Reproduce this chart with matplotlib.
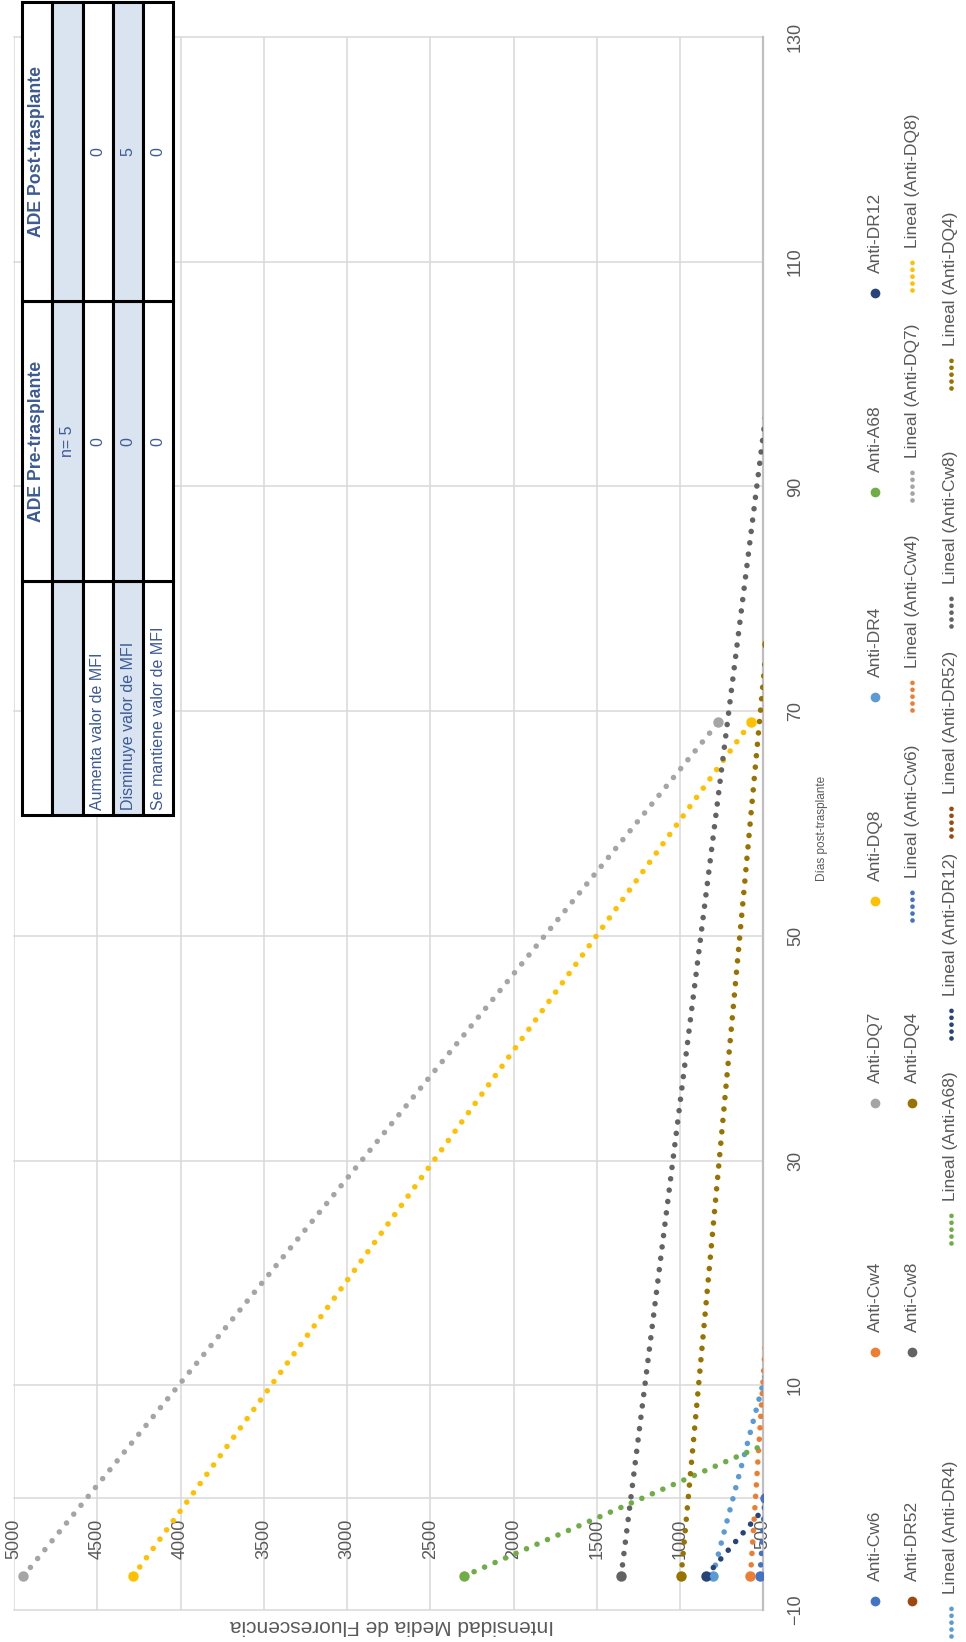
import numpy as np
import matplotlib
matplotlib.use("Agg")
import matplotlib.pyplot as plt
from matplotlib.patches import Rectangle

W, H, DPI = 966, 1642, 100

# anticuerpos donante-específicos, MFI pre (día -7) y post-trasplante
antigenos = ["Anti-Cw6", "Anti-Cw4", "Anti-DQ7", "Anti-DQ8", "Anti-DR4",
             "Anti-A68", "Anti-DR12", "Anti-DR52", "Anti-Cw8", "Anti-DQ4"]
colores = ["#4472C4", "#ED7D31", "#A5A5A5", "#FFC000", "#5B9BD5",
           "#70AD47", "#264478", "#9E480E", "#636363", "#997300"]
dia_pre = [-7, -7, -7, -7, -7, -7, -7, -7, -7, -7]
mfi_pre = [520, 577, 4945, 4285, 805, 2300, 845, 450, 1354, 994]
dia_post = [0, 20, 69, 69, 14, 7, 0, 69, 100, 76]
mfi_post = [490, 460, 770, 575, 433, 140, 440, 300, 455, 480]

mfi_ticks = [500, 1000, 1500, 2000, 2500, 3000, 3500, 4000, 4500, 5000]
dia_ticks = [-10, 10, 30, 50, 70, 90, 110, 130]

tabla_encab = ["", "ADE Pre-trasplante", "ADE Post-trasplante"]
tabla_filas = ["", "Aumenta valor de MFI", "Disminuye valor de MFI",
               "Se mantiene valor de MFI"]
tabla_pre = ["n= 5", "0", "0", "0"]
tabla_post = ["", "0", "5", "0"]

plt.rcParams["font.family"] = ["Liberation Sans", "DejaVu Sans"]
GRIS = "#595959"
PUNTOS = (0, (0.01, 2.05))

fig = plt.figure(figsize=(W / DPI, H / DPI), dpi=DPI)


def caja(x0, y0, x1, y1):
    return [x0 / W, 1 - y1 / H, (x1 - x0) / W, (y1 - y0) / H]


ax = fig.add_axes(caja(14, 37, 763.3, 1610))
ax.set_xlim(5000, 500)
ax.set_ylim(-10, 130)
ax.set_xticks(mfi_ticks)
ax.set_yticks(dia_ticks)
ax.grid(True, color="#D9D9D9", lw=1.1)
ax.set_axisbelow(True)
for g in ax.get_xgridlines() + ax.get_ygridlines():
    g.set_clip_on(False)
for s in ("left", "top"):
    ax.spines[s].set_visible(False)
ax.spines["bottom"].set_position(("data", 0))
ax.spines["bottom"].set_color("#D9D9D9")
ax.spines["bottom"].set_linewidth(1.1)
ax.spines["right"].set_color("#BFBFBF")
ax.spines["right"].set_linewidth(1.6)
ax.yaxis.tick_right()
ax.tick_params(axis="x", length=0, pad=15, labelsize=13, labelcolor=GRIS,
               labelrotation=90)
ax.tick_params(axis="y", length=0, pad=17, labelsize=13, labelcolor=GRIS,
               labelrotation=90)
for t in ax.get_yticklabels():
    t.set_va("center")

for i, nombre in enumerate(antigenos):
    d = np.array([dia_pre[i], dia_post[i]], dtype=float)
    m = np.array([mfi_pre[i], mfi_post[i]], dtype=float)
    ax.plot(m, d, "o", color=colores[i], ms=7.5, mec="none", zorder=3)
    pend, orig = np.polyfit(d, m, 1)
    dd = np.array([d.min(), d.max()])
    ax.plot(pend * dd + orig, dd, color=colores[i], lw=4.0, ls=PUNTOS,
            dash_capstyle="round", zorder=4)

ax.yaxis.set_label_position("right")
ax.set_ylabel("Días post-trasplante", rotation=90, fontsize=8.5, color=GRIS)
ax.yaxis.set_label_coords(1.078, 0.497)
ax.yaxis.label.set_va("center")
ax.yaxis.label.set_ha("center")

# capa en pixeles para la tabla, la leyenda y el titulo del eje de MFI
lay = fig.add_axes([0, 0, 1, 1])
lay.set_xlim(0, W)
lay.set_ylim(H, 0)
lay.axis("off")

lay.text(392, 1626, "Intensidad Media de Fluorescencia", rotation=180,
         ha="center", va="center", fontsize=15, color=GRIS)

# tabla resumen (filas en horizontal, columnas en vertical)
bx = [21.7, 52.3, 82.7, 113.3, 143.3, 173.3]
by = [815, 581.5, 300.7, 2]
AZUL = "#3C5A96"
filas = [tabla_encab]
for k in range(4):
    filas.append([tabla_filas[k], tabla_pre[k], tabla_post[k]])
for r, fila in enumerate(filas):
    fondo = "#DAE3F0" if r in (1, 3) else "white"
    xc = (bx[r] + bx[r + 1]) / 2
    for c, txt in enumerate(fila):
        lay.add_patch(Rectangle((bx[r], by[c + 1]), bx[r + 1] - bx[r],
                                by[c] - by[c + 1], facecolor=fondo,
                                edgecolor="black", lw=2.2, zorder=2))
        if not txt:
            continue
        if r == 0:
            lay.text(xc, (by[c] + by[c + 1]) / 2, txt, rotation=90,
                     ha="center", va="center", fontsize=12.7,
                     fontweight="bold", color=AZUL, zorder=3)
        elif c == 0:
            lay.text(xc, by[0] - 5, txt, rotation=90, ha="center",
                     va="bottom", fontsize=11.5, color=AZUL, zorder=3)
        else:
            lay.text(xc, (by[c] + by[c + 1]) / 2, txt, rotation=90,
                     ha="center", va="center", fontsize=11.5, color=AZUL,
                     zorder=3)

# leyenda
ley_marca = [(875, 1601, 0), (875, 1352, 1), (875, 1103, 2), (875, 901, 3),
             (875, 697, 4), (875, 492, 5), (875, 293, 6),
             (912, 1601, 7), (912, 1352, 8), (912, 1103, 9)]
ley_linea = [(912, 922, 0), (912, 712, 1), (912, 502, 2), (912, 292, 3),
             (951, 1638, 4), (951, 1245, 5), (951, 1040, 6), (951, 838, 7),
             (951, 628, 8), (951, 390, 9)]
for x, y, i in ley_marca:
    lay.plot([x], [y], "o", color=colores[i], ms=7, mec="none")
    lay.text(x, y - 20, antigenos[i], rotation=90, ha="center", va="bottom",
             fontsize=12.5, color=GRIS)
for x, y, i in ley_linea:
    lay.plot([x, x], [y - 2, y - 36], color=colores[i], lw=3.4,
             ls=(0, (0.01, 1.45)), dash_capstyle="round")
    lay.text(x, y - 44, "Lineal (" + antigenos[i] + ")", rotation=90,
             ha="center", va="bottom", fontsize=12.5, color=GRIS)

fig.savefig("out.png", dpi=DPI, facecolor="white")
